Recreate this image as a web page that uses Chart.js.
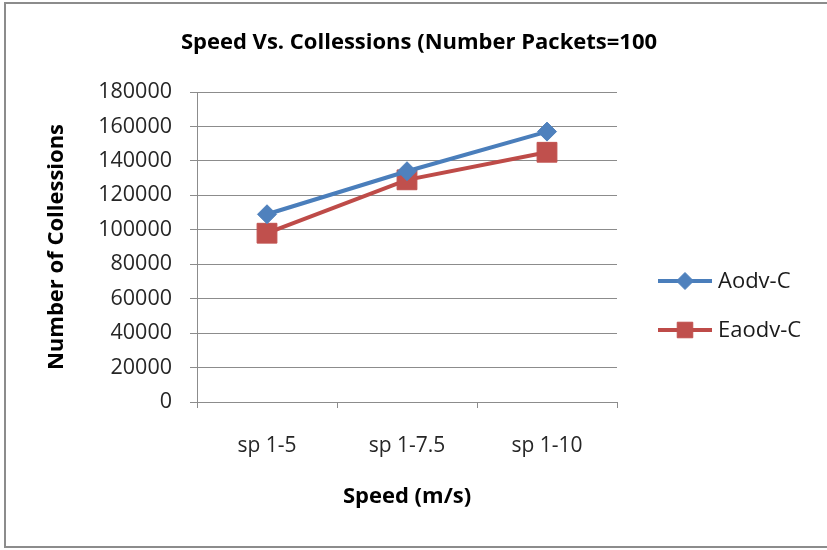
<!DOCTYPE html>
<html>
<head>
<meta charset="utf-8">
<script src="https://cdn.jsdelivr.net/npm/chart.js@4"></script>
<style>
  html, body { margin: 0; padding: 0; background: #fff; }
  #wrap { width: 827px; height: 550px; position: relative; }
</style>
</head>
<body>
<div id="wrap"><canvas id="c" width="827" height="550"></canvas></div>
<script>
// Collision counts per speed range
const categories = ['sp 1-5', 'sp 1-7.5', 'sp 1-10'];
const aodvC = [109000, 134000, 157000];
const eaodvC = [98000, 129000, 145000];
const seriesNames = ['Aodv-C', 'Eaodv-C'];
const yMin = 0;
const yMax = 180000;
const yStep = 20000;
const chartTitle = 'Speed Vs. Collessions (Number Packets=100';

const FONT = "'Open Sans', 'Noto Sans', sans-serif";
const GRID = '#8c8c8c';

// White page with a grey frame, plus the heading above the plot
const framePlugin = {
  id: 'frame',
  beforeDraw(chart) {
    const ctx = chart.ctx;
    ctx.save();
    ctx.fillStyle = '#ffffff';
    ctx.fillRect(0, 0, chart.width, chart.height);
    ctx.strokeStyle = GRID;
    ctx.lineWidth = 2;
    ctx.strokeRect(5, 3, chart.width + 10, 544);
    ctx.fillStyle = '#000';
    ctx.font = 'bold 22px ' + FONT;
    ctx.textAlign = 'center';
    ctx.textBaseline = 'middle';
    ctx.fillText(chartTitle, 419, 43);
    ctx.restore();
  }
};

// Legend on the right: line sample with marker, then series name
const sideLegend = {
  id: 'sideLegend',
  afterDraw(chart) {
    const ctx = chart.ctx;
    const x0 = chart.chartArea.right + 41;
    const lineLen = 54;
    const yFirst = 281;
    const gap = 49;
    const markerRadius = [8.5, 11];
    ctx.save();
    chart.data.datasets.forEach((ds, i) => {
      const y = yFirst + i * gap;
      ctx.strokeStyle = ds.borderColor;
      ctx.lineWidth = ds.borderWidth;
      ctx.beginPath();
      ctx.moveTo(x0, y);
      ctx.lineTo(x0 + lineLen, y);
      ctx.stroke();
      ctx.fillStyle = ds.pointBackgroundColor;
      ctx.strokeStyle = ds.pointBorderColor;
      ctx.lineWidth = 1;
      Chart.helpers.drawPoint(ctx, {
        pointStyle: ds.pointStyle,
        radius: markerRadius[i],
        rotation: 0,
        borderWidth: 1
      }, x0 + lineLen / 2, y);
      ctx.fillStyle = '#1a1a1a';
      ctx.font = '22px ' + FONT;
      ctx.textBaseline = 'middle';
      ctx.textAlign = 'left';
      ctx.fillText(ds.label, x0 + lineLen + 6, y + 1);
    });
    ctx.restore();
  }
};

new Chart(document.getElementById('c'), {
  type: 'line',
  data: {
    labels: categories,
    datasets: [
      {
        label: seriesNames[0],
        data: aodvC,
        borderColor: '#4a7ebb',
        backgroundColor: '#4f81bd',
        borderWidth: 4,
        pointStyle: 'rectRot',
        pointRadius: 9.5,
        pointHoverRadius: 9.5,
        pointBackgroundColor: '#4f81bd',
        pointBorderColor: '#4f81bd',
        pointBorderWidth: 1,
        tension: 0
      },
      {
        label: seriesNames[1],
        data: eaodvC,
        borderColor: '#be4b48',
        backgroundColor: '#c0504d',
        borderWidth: 4,
        pointStyle: 'rect',
        pointRadius: 14,
        pointHoverRadius: 14,
        pointBackgroundColor: '#c0504d',
        pointBorderColor: '#c0504d',
        pointBorderWidth: 1,
        tension: 0
      }
    ]
  },
  options: {
    responsive: false,
    animation: false,
    events: [],
    layout: { padding: { left: 0, right: 210, top: 92, bottom: 0 } },
    plugins: {
      legend: { display: false },
      tooltip: { enabled: false },
      title: { display: false }
    },
    scales: {
      x: {
        type: 'category',
        offset: true,
        grid: {
          offset: true,
          drawOnChartArea: false,
          drawTicks: true,
          tickLength: 6,
          color: GRID
        },
        border: { display: true, color: GRID, width: 1 },
        ticks: {
          color: '#262626',
          font: { family: FONT, size: 21 },
          padding: 25,
          maxRotation: 0
        },
        title: {
          display: true,
          text: 'Speed (m/s)',
          color: '#000',
          font: { family: FONT, size: 22, weight: 'bold' },
          padding: { top: 0, bottom: 40 }
        },
        afterFit(scale) { scale.height = 148; }
      },
      y: {
        min: yMin,
        max: yMax,
        grid: {
          color: GRID,
          drawTicks: true,
          tickLength: 7
        },
        border: { display: true, color: GRID, width: 1 },
        ticks: {
          stepSize: yStep,
          color: '#262626',
          font: { family: FONT, size: 21.5 },
          padding: 18,
          callback: (v) => String(v)
        },
        title: {
          display: true,
          text: 'Number of Collessions',
          color: '#000',
          font: { family: FONT, size: 22, weight: 'bold' },
          padding: { top: 44, bottom: 0 }
        },
        afterFit(scale) { scale.width = 197; }
      }
    }
  },
  plugins: [framePlugin, sideLegend]
});
</script>
</body>
</html>
